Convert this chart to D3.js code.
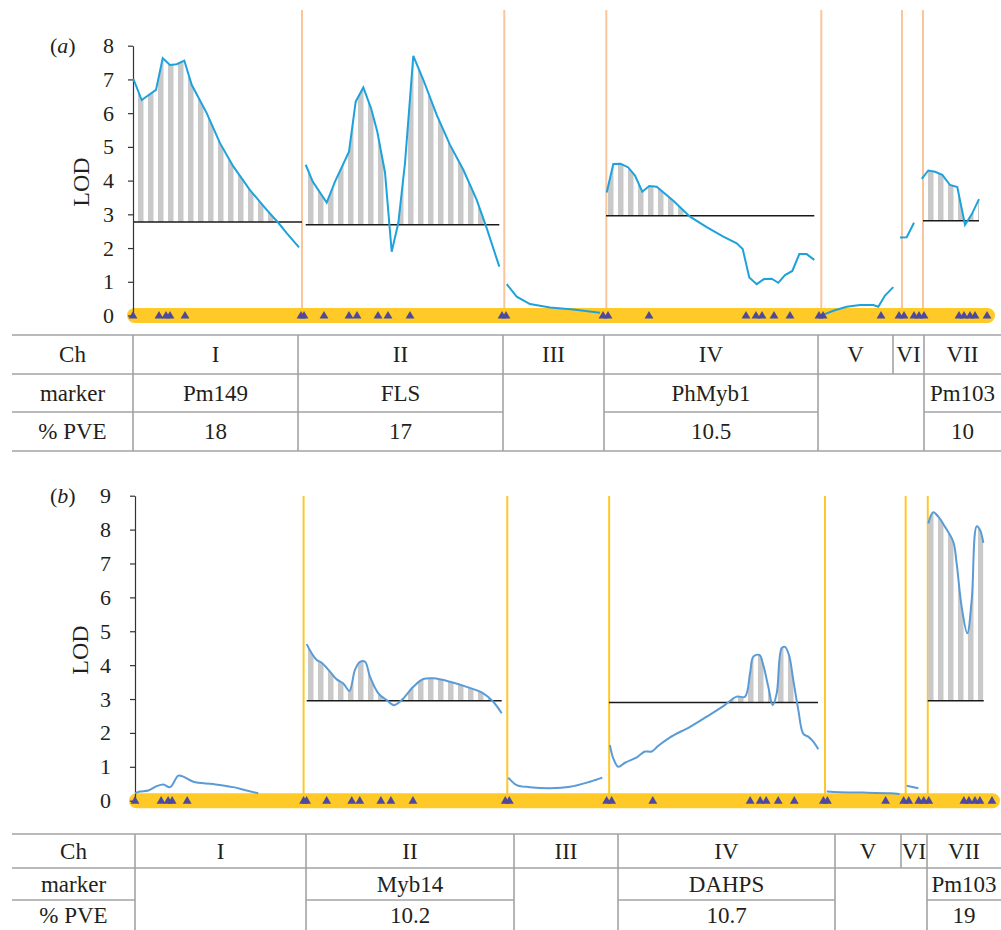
<!DOCTYPE html>
<html>
<head>
<meta charset="utf-8">
<script src="https://cdn.jsdelivr.net/npm/d3@7"></script>
<style>
  html, body { margin: 0; padding: 0; background: #fff; }
  svg { display: block; font-family: "Liberation Serif", "Times New Roman", serif; }
  svg text { font-family: "Liberation Serif", "Times New Roman", serif; }
</style>
</head>
<body>
<svg id="chart" width="1001" height="930"></svg>
<script>
// ---------------- DATA ----------------
const chromosomes = ["I", "II", "III", "IV", "V", "VI", "VII"];

// chromosome boundaries (map position units)
const boundariesA = [169, 371.3, 473.3, 688.3, 769, 790];
const boundariesB = [168, 371, 472.5, 687.6, 768, 790];

// marker positions along the linkage map
const markerPos = [0, 26, 33, 37, 52, 168, 171, 191, 216, 224, 245, 255, 277, 369, 373,
  470, 475, 516, 613, 623, 629, 641, 657, 686, 690, 748, 766, 771, 781, 786, 791,
  826, 831, 837, 842, 854];

// LOD profiles, panel (a): [position, LOD]
const lodA_I = [[0.3,7.02],[8.7,6.39],[23,6.69],[29.7,7.63],[37,7.43],[43.7,7.45],[51.3,7.56],[58.7,6.84],[73.7,6.0],[87,5.11],[100.3,4.42],[117,3.72],[133.7,3.13],[145.3,2.75],[153.7,2.44],[166,2.02]];
const lodA_II = [[172.7,4.47],[179.7,3.97],[193.7,3.35],[202,3.97],[216,4.86],[222.7,6.34],[230.3,6.76],[238,6.15],[244.3,5.45],[252,4.24],[258.7,1.89],[265.3,2.74],[272,4.52],[280.3,7.70],[290.3,6.99],[303.7,5.95],[317,5.06],[330.3,4.32],[343.7,3.43],[353.7,2.59],[366.3,1.45]];
const lodA_III = [[373.7,0.93],[383.7,0.56],[397,0.34],[417,0.24],[440.3,0.18],[467,0.08]];
const lodA_IV = [[473.7,3.65],[480.3,4.49],[487.7,4.50],[495.3,4.39],[502,4.15],[509.3,3.67],[516.3,3.84],[523.7,3.82],[540.3,3.40],[557,2.93],[573.7,2.62],[590.3,2.34],[603.7,2.14],[609.7,1.97],[616.3,1.13],[623.7,0.93],[631,1.08],[638.7,1.09],[645.3,0.97],[652,1.20],[659.3,1.32],[666.3,1.82],[673.7,1.82],[681.3,1.65]];
const lodA_V = [[689.3,0.01],[700.3,0.14],[713.7,0.26],[727,0.31],[740.3,0.31],[745.3,0.26],[752,0.59],[760.3,0.84]];
const lodA_VI = [[767,2.31],[773.7,2.32],[781,2.75]];
const lodA_VII = [[788.7,4.05],[795.3,4.30],[802,4.26],[809.3,4.17],[817,3.87],[824.3,3.81],[832,2.69],[838.7,3.00],[846,3.45]];

// LOD profiles, panel (b)
const lodB_I = [[0,0.22],[5,0.27],[13.3,0.30],[21.6,0.43],[28.2,0.48],[34.9,0.40],[43.2,0.74],[48.1,0.71],[58.1,0.56],[78,0.49],[97.9,0.40],[111.2,0.30],[122.8,0.22]];
const lodB_II = [[171.1,4.62],[176.1,4.35],[181.1,4.15],[186,4.07],[194.3,3.81],[201,3.58],[207.6,3.46],[213.6,3.24],[219.2,3.86],[224.2,4.10],[229.2,4.10],[234.2,3.66],[242.5,3.17],[250.8,2.97],[258.1,2.82],[265.8,2.97],[277.3,3.36],[287.3,3.59],[297.3,3.61],[313.9,3.51],[330.5,3.36],[347.1,3.17],[357,2.92],[365.4,2.58]];
const lodB_III = [[372,0.68],[380.4,0.46],[393.6,0.40],[413.5,0.37],[433.5,0.41],[453.4,0.56],[465.7,0.68]];
const lodB_IV = [[473.3,1.64],[476.6,1.25],[481.6,1.00],[488.3,1.12],[500,1.28],[508.2,1.45],[514.9,1.45],[521.5,1.62],[533.2,1.87],[553.1,2.18],[569.7,2.48],[586.3,2.79],[599.6,3.07],[607.9,3.07],[612.9,3.76],[616.2,4.25],[622.2,4.30],[626.1,4.00],[631.1,3.36],[635.5,2.82],[639.5,3.17],[644.4,4.50],[647.7,4.54],[651.7,4.30],[656,3.56],[661,2.68],[666,1.97],[670.9,1.89],[675.9,1.74],[680.9,1.52]];
const lodB_V = [[689.3,0.27],[702.5,0.25],[725.8,0.24],[752.4,0.22],[762,0.20]];
const lodB_VI = [[769,0.44],[780.6,0.37]];
const lodB_VII = [[790.5,8.18],[795.5,8.51],[800.5,8.38],[807.2,8.08],[815.4,7.64],[818.8,7.00],[823.8,5.72],[829.4,4.94],[833.8,5.92],[838.8,8.10],[842.1,7.99],[845.4,7.61]];

// significance thresholds: [start, end, LOD, index of profile]
const thresholdsA = [[0, 169, 2.77, 0], [172.7, 366.3, 2.69, 1], [473, 681.3, 2.96, 3], [790, 846, 2.81, 6]];
const thresholdsB = [[171.1, 365.4, 2.95, 1], [472.3, 680.6, 2.90, 3], [790, 845.8, 2.95, 6]];

// y-axis ticks
const ticksA = [0, 1, 2, 3, 4, 5, 6, 7, 8];
const ticksB = [0, 1, 2, 3, 4, 5, 6, 7, 8, 9];

// tables
const rowLabels = ["Ch", "marker", "% PVE"];
const markersA = ["Pm149", "FLS", "", "PhMyb1", "", "", "Pm103"];
const pveA = ["18", "17", "", "10.5", "", "", "10"];
const markersB = ["", "Myb14", "", "DAHPS", "", "", "Pm103"];
const pveB = ["", "10.2", "", "10.7", "", "", "19"];

// ---------------- DRAWING ----------------
const FONT = "Liberation Serif, Times New Roman, serif";
const svg = d3.select("#chart");
const defs = svg.append("defs");
const pat = defs.append("pattern").attr("id", "stripes")
  .attr("patternUnits", "userSpaceOnUse").attr("width", 10).attr("height", 10).attr("x", 138);
pat.append("rect").attr("width", 5.5).attr("height", 10).attr("fill", "#c9c9c9");

function drawPanel(cfg) {
  const g = svg.append("g");
  const x = d3.scaleLinear().domain([0, 860]).range(cfg.xRange);
  const y = d3.scaleLinear().domain([0, cfg.yMax]).range(cfg.yRange);

  // chromosome boundaries
  g.selectAll("line.bound").data(cfg.bounds).join("line")
    .attr("x1", d => x(d)).attr("x2", d => x(d))
    .attr("y1", cfg.boundTop).attr("y2", y(0) + 4)
    .attr("stroke", cfg.boundColor).attr("stroke-width", 2);

  // linkage bar
  const barH = 15;
  g.append("rect")
    .attr("x", x(-6)).attr("y", y(0) - barH / 2)
    .attr("width", x(cfg.barEnd) - x(-6)).attr("height", barH)
    .attr("rx", barH / 2).attr("fill", "#ffc928");

  // shaded significant regions
  cfg.thresholds.forEach((t, i) => {
    const id = cfg.id + "clip" + i;
    defs.append("clipPath").attr("id", id).append("rect")
      .attr("x", x(t[0])).attr("width", x(t[1]) - x(t[0]))
      .attr("y", 0).attr("height", y(t[2]));
    const prof = cfg.profiles[t[3]];
    const area = d3.area().x(d => x(d[0])).y0(y(t[2])).y1(d => y(d[1])).curve(cfg.curve);
    g.append("path").datum(prof).attr("d", area)
      .attr("fill", "url(#stripes)").attr("clip-path", `url(#${id})`);
  });

  // threshold lines
  g.selectAll("line.thr").data(cfg.thresholds).join("line")
    .attr("x1", d => x(d[0])).attr("x2", d => x(d[1]))
    .attr("y1", d => y(d[2])).attr("y2", d => y(d[2]))
    .attr("stroke", "#1a1a1a").attr("stroke-width", 1.5);

  // y axis
  const axis = d3.axisLeft(y).tickValues(cfg.ticks).tickSize(5).tickSizeOuter(0).tickPadding(cfg.pad);
  const ag = g.append("g").attr("transform", `translate(${x(0)},0)`).call(axis)
    .attr("font-family", FONT);
  ag.select(".domain").attr("stroke", "#333").attr("stroke-width", 1.2);
  ag.selectAll(".tick line").attr("stroke", "#333").attr("stroke-width", 1.2);
  ag.selectAll(".tick text").attr("font-size", 22).attr("fill", "#231f20")
    .attr("font-family", FONT);

  // LOD profiles
  const line = d3.line().x(d => x(d[0])).y(d => y(d[1])).curve(cfg.curve);
  g.selectAll("path.prof").data(cfg.profiles).join("path")
    .attr("d", line).attr("fill", "none")
    .attr("stroke", cfg.lineColor).attr("stroke-width", 2);

  // markers
  g.selectAll("path.mk").data(markerPos).join("path")
    .attr("d", d3.symbol(d3.symbolTriangle, 34))
    .attr("transform", d => `translate(${x(d)},${y(0) + 0.5})`)
    .attr("fill", "#4d4a9e");

  // labels
  g.append("text").attr("x", cfg.labelX).attr("y", cfg.yRange[1] + 7)
    .attr("font-size", 22).attr("fill", "#231f20").attr("font-family", FONT)
    .html(`(<tspan font-style="italic">${cfg.label}</tspan>)`);
  g.append("text")
    .attr("transform", `translate(${cfg.lodX},${cfg.lodY}) rotate(-90)`)
    .attr("text-anchor", "middle").attr("dominant-baseline", "central")
    .attr("font-size", 24).attr("fill", "#231f20").attr("font-family", FONT).text("LOD");
}

drawPanel({
  id: "a", label: "a", xRange: [133, 993], yMax: 8, yRange: [315.5, 45.7],
  bounds: boundariesA, boundTop: 10, boundColor: "#f9c59b", barEnd: 862,
  thresholds: thresholdsA,
  profiles: [lodA_I, lodA_II, lodA_III, lodA_IV, lodA_V, lodA_VI, lodA_VII],
  curve: d3.curveLinear, lineColor: "#1ea2dc", ticks: ticksA, pad: 14,
  labelX: 50, lodX: 81, lodY: 182
});

drawPanel({
  id: "b", label: "b", xRange: [135, 998], yMax: 9, yRange: [800.7, 495.7],
  bounds: boundariesB, boundTop: 496, boundColor: "#ffc82a", barEnd: 862,
  thresholds: thresholdsB,
  profiles: [lodB_I, lodB_II, lodB_III, lodB_IV, lodB_V, lodB_VI, lodB_VII],
  curve: d3.curveCatmullRom.alpha(0.5), lineColor: "#5b9bd5", ticks: ticksB, pad: 19,
  labelX: 50, lodX: 80, lodY: 650
});

function drawTable(cols, rows, markers, pves) {
  const g = svg.append("g");
  const stroke = "#a3a3a3";
  const filled = j => j === 0 || markers[j - 1] !== "";
  // horizontal lines
  [0, 1, 3].forEach(r => g.append("line")
    .attr("x1", cols[0]).attr("x2", cols[cols.length - 1])
    .attr("y1", rows[r]).attr("y2", rows[r]).attr("stroke", stroke).attr("stroke-width", 1.6));
  for (let j = 0; j < cols.length - 1; j++) {
    if (filled(j)) g.append("line").attr("x1", cols[j]).attr("x2", cols[j + 1])
      .attr("y1", rows[2]).attr("y2", rows[2]).attr("stroke", stroke).attr("stroke-width", 1.6);
  }
  // vertical lines
  for (let j = 1; j < cols.length - 1; j++) {
    const full = filled(j - 1) || filled(j);
    g.append("line").attr("x1", cols[j]).attr("x2", cols[j])
      .attr("y1", rows[0]).attr("y2", full ? rows[3] : rows[1])
      .attr("stroke", stroke).attr("stroke-width", 1.6);
  }
  const cells = [];
  rowLabels.forEach((t, r) => cells.push({ t, c: 0, r }));
  chromosomes.forEach((t, j) => {
    cells.push({ t, c: j + 1, r: 0 });
    if (markers[j]) cells.push({ t: markers[j], c: j + 1, r: 1 });
    if (pves[j]) cells.push({ t: pves[j], c: j + 1, r: 2 });
  });
  g.selectAll("text").data(cells).join("text")
    .attr("x", d => (cols[d.c] + cols[d.c + 1]) / 2)
    .attr("y", d => (rows[d.r] + rows[d.r + 1]) / 2)
    .attr("text-anchor", "middle").attr("dominant-baseline", "central")
    .attr("font-size", 23).attr("fill", "#231f20").attr("font-family", FONT).text(d => d.t);
}

drawTable([12, 133, 298, 503, 604, 818, 893, 924, 1001], [335, 374, 412, 451], markersA, pveA);
drawTable([12, 135, 306, 514, 618, 835, 901, 927, 1001], [834, 868, 900, 931], markersB, pveB);
</script>
</body>
</html>
